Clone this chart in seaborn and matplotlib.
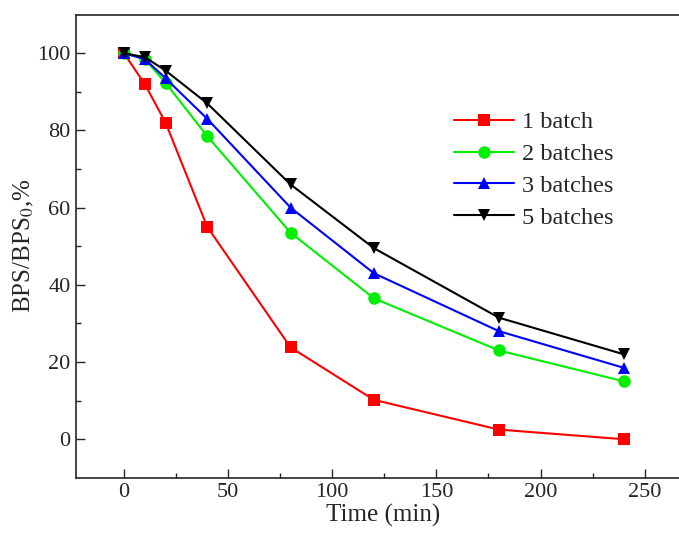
import pandas as pd
import matplotlib.pyplot as plt
import seaborn as sns

sns.set_style("ticks")
plt.rcParams['font.family'] = ['Liberation Serif', 'DejaVu Serif']
plt.rcParams['mathtext.fontset'] = 'stix'

# data
time = [0, 10, 20, 40, 80, 120, 180, 240]
batch1 = [100, 92, 82, 55, 23.8, 10.2, 2.5, 0]
batch2 = [100, 98.5, 92.3, 78.5, 53.5, 36.5, 23, 15]
batch3 = [100, 98.5, 93.5, 83, 60, 43, 28, 18.5]
batch5 = [100, 99, 95.5, 87, 66, 49.5, 31.5, 22]
labels = ["1 batch", "2 batches", "3 batches", "5 batches"]

rows = []
for lab, vals in zip(labels, [batch1, batch2, batch3, batch5]):
    for t, v in zip(time, vals):
        rows.append({"Time": t, "BPS": v, "Batch": lab})
df = pd.DataFrame(rows)

colors = ["#ff0000", "#00ee00", "#0000ff", "#000000"]
markers = ["s", "o", "^", "v"]

fig = plt.figure(figsize=(6.79, 5.43), dpi=100)
ax = fig.add_axes([0.112, 0.12, 0.905, 0.853])
sns.lineplot(data=df, x="Time", y="BPS", hue="Batch", style="Batch",
             palette=colors, markers=markers, dashes=False, markersize=9,
             markeredgewidth=0, linewidth=1.5, ax=ax)

ax.set_xlim(-23, 272)
ax.set_ylim(-10, 110)
ax.set_xticks([0, 50, 100, 150, 200, 250])
ax.set_xticks([25, 75, 125, 175, 225], minor=True)
ax.set_yticks([0, 20, 40, 60, 80, 100])
ax.set_yticks([10, 30, 50, 70, 90], minor=True)
ax.tick_params(which='major', direction='in', length=6.5, width=1, labelsize=16, pad=4)
ax.tick_params(which='minor', direction='in', length=3.5, width=1)
ax.tick_params(top=False, right=False)
for s in ax.spines.values():
    s.set_linewidth(1.2)
ax.set_xlabel("Time (min)", fontsize=18, labelpad=1)
ax.set_ylabel("BPS/BPS$_0$,%", fontsize=18, labelpad=1)

ax.legend(loc='upper left', bbox_to_anchor=(0.668, 0.795), bbox_transform=fig.transFigure,
          frameon=False, fontsize=17.5, handlelength=2.5, handletextpad=0.3,
          labelspacing=0.4, borderaxespad=0, borderpad=0)

fig.savefig("out.png", dpi=100)
